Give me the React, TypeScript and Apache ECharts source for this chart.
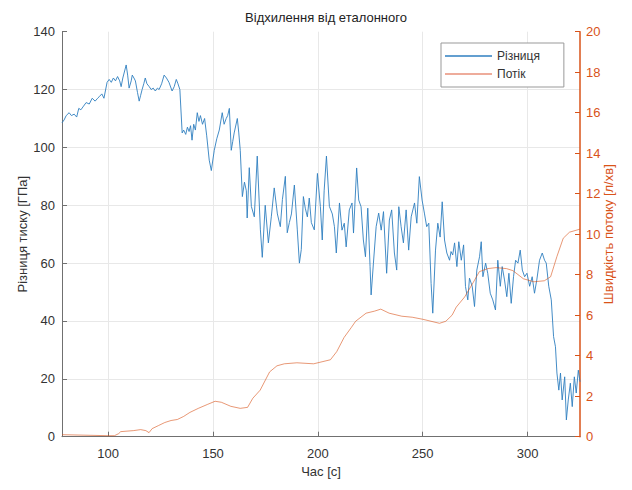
import React, { useEffect, useRef } from "react";
import * as echarts from "echarts";

const titleText = "Відхилення від еталонного";
const xName = "Час [с]";
const leftName = "Різниця тиску [ГПа]";
const rightName = "Швидкість потоку [л/хв]";
const diffLabel = "Різниця";
const flowLabel = "Потік";

const diffTime = [
  78, 79, 80, 81.4, 82.5, 83.8, 85, 86, 87, 88, 89.5, 91, 92.4, 93.8, 95, 95.7, 97, 98, 99.5,
  100.5, 101.5, 102.5, 103.5, 104.5, 105.5, 106.2, 107, 108.6, 109.3, 110, 111, 111.5, 112.3,
  113, 114, 114.8, 115.5, 116.2, 117, 117.7, 118.5, 119.6, 120.5, 121.5, 122.5, 123.5, 124.3,
  125.5, 126.7, 127.8, 129, 130.5, 131.5, 132.5, 133.3, 134.2, 135.3, 136, 137, 137.8, 138.6,
  139.3, 140, 140.8, 141.6, 142.5, 143.3, 144, 145, 146, 147, 148.2, 149.2, 150.6, 151.8, 153,
  154.4, 155.3, 156.3, 157, 157.8, 158.7, 159.4, 160.1, 161.6, 162.3, 163, 164, 165, 165.9,
  166.3, 167.3, 168.3, 169.7, 171.1, 172.6, 173.5, 174.9, 176.4, 177.8, 179.2, 180.7, 182.1,
  183.1, 184.5, 185.4, 186.4, 187.4, 188.8, 190.2, 191.2, 192.1, 193.1, 194, 195, 195.9, 196.9,
  198.3, 199.8, 201.2, 202.1, 203, 204.1, 205.5, 206.9, 207.9, 208.8, 210.3, 211.5, 212.6,
  213.5, 215, 216.3, 217, 218.5, 219.5, 220.6, 221.7, 222.7, 223.8, 224.9, 225.4, 226.5, 227.8,
  229, 230.2, 231.3, 232.8, 234.1, 235.2, 236.5, 237.6, 238.6, 239.7, 240.8, 242.1, 243.3,
  244.5, 246.1, 247.2, 248.4, 249.7, 250.8, 251.9, 252.9, 254, 254.8, 256.1, 257.2, 258.3,
  259.3, 260.4, 261.5, 262.8, 263.5, 264.3, 265.2, 266.3, 267.2, 268.4, 269.5, 270.4, 271.5,
  272.3, 273.6, 274.7, 275.8, 277.1, 277.9, 278.7, 280, 281, 282.2, 283.4, 284.7, 285.8, 287,
  287.9, 289, 290.1, 291.1, 292.2, 293.3, 294.3, 295.4, 296.5, 297.5, 298.6, 299.7, 301, 302.2,
  303.3, 304.4, 305.7, 307, 308.1, 308.9, 310.1, 311.3, 312.4, 313.3, 314, 314.9, 315.7, 316.5,
  317.7, 318.5, 319.4, 320.4, 321.3, 322.3, 323.2, 324.2, 325,
];

const diffValue = [
  108.5, 109.5, 111, 112, 111, 111.5, 110.5, 113.5, 113, 114, 115.5, 115, 117, 116, 117, 117.5, 118.5, 117, 122.5,
  123.5, 122.5, 124, 123, 124.5, 123, 121, 124, 128.5, 125, 120.5, 123, 125, 124,
  123, 119, 116, 118, 120, 122, 124, 122, 121, 120, 120.5, 119.5, 120.5, 120,
  122, 125, 124, 122.5, 119.5, 121, 123.5, 122, 120, 105, 106, 104.5, 107, 105.5,
  107.5, 102.5, 108, 106, 112, 109, 111, 108, 110, 104, 95.6, 92, 99, 103, 106,
  112, 108, 110, 111, 113.5, 99, 102, 105, 110, 105, 99, 83, 88, 85,
  75.6, 93, 79.6, 76, 97, 71.5, 62, 80, 67, 76, 86, 77, 72.6,
  82, 90, 70.5, 74, 77, 87, 71.5, 60, 64.7, 83, 79, 76, 82.5, 74,
  71.5, 91, 79.6, 68, 85, 97, 79.6, 77, 72.6, 63.5, 80.8, 71.4, 73.8,
  65.6, 78.4, 80.8, 70.4, 92.9, 81.8, 79.5, 68, 62.2, 79, 58.8, 49, 60, 72.6,
  77.3, 71.4, 77.8, 56.5, 74.9, 78.4, 63.5, 57.6, 79.5, 72.6, 67, 78.4, 64.5,
  76, 80.8, 73.8, 89.9, 81.8, 77.3, 72.6, 73.8, 53, 42.7, 64.5, 73.8, 69,
  81.2, 68, 63.5, 61, 64, 62.8, 67, 58.8, 67.4, 61, 66.3, 51.9, 47.3,
  54.8, 52, 45, 57.6, 62.2, 67.4, 55.3, 60, 56.5, 49.6, 47.3, 43.8, 61, 52,
  58.8, 54.2, 48.4, 56.5, 46.1, 55.3, 61, 60, 64.5, 57.6, 55.3, 56.5, 52, 55.3,
  49.6, 54.2, 61, 63.5, 61, 60, 52, 47.3, 34.6, 31.1, 22, 16.1, 22, 12.7,
  20.7, 5.8, 12.7, 18.5, 10.4, 20.7, 15.1, 23, 19,
];

const flowTime = [
  78, 100, 103, 105, 106, 112, 115.5, 118, 119.5, 121, 124, 127, 130, 133, 136, 139, 143, 147.5,
  151, 154, 158.5, 163, 166.5, 169, 172.5, 177, 180.5, 184, 190, 198, 202, 206, 209, 212.5, 216,
  218, 223, 227, 230, 234, 240, 245, 250, 258, 261, 264, 266, 270, 274, 277, 281, 285, 290, 293,
  298, 303, 308, 311, 314, 317, 320, 325,
];

const flowValue = [
  0.1, 0.05, 0.05, 0.15, 0.25, 0.3, 0.35, 0.3, 0.2, 0.4, 0.55, 0.7, 0.8, 0.85, 1.0, 1.2, 1.4, 1.6,
  1.75, 1.7, 1.5, 1.4, 1.45, 1.9, 2.3, 3.2, 3.5, 3.6, 3.65, 3.6, 3.7, 3.8, 4.2, 4.9, 5.4,
  5.7, 6.1, 6.2, 6.3, 6.1, 5.95, 5.9, 5.8, 5.6, 5.7, 6.0, 6.4, 6.9, 7.6, 8.15, 8.3, 8.35, 8.3, 8.2,
  7.8, 7.65, 7.7, 7.9, 8.9, 9.8, 10.1, 10.25,
];

const FONT = "'Liberation Sans', Arial, sans-serif";
const BLUE = "#2f7fc0";
const ORANGE = "#D95319";
const AXIS = "#707070";

export default function App() {
  const ref = useRef<HTMLDivElement>(null);
  useEffect(() => {
    if (!ref.current) return;
    const chart = echarts.init(ref.current, null, { renderer: "svg" });
    chart.setOption({
      animation: false,
      backgroundColor: "#fff",
      textStyle: { fontFamily: FONT },
      title: {
        text: titleText,
        left: 321,
        textAlign: "center",
        top: 6,
        textStyle: { fontSize: 13, fontWeight: "normal", color: "#222", fontFamily: FONT },
      },
      legend: {
        orient: "vertical",
        left: 441,
        top: 43,
        padding: [6, 24, 6, 4],
        itemGap: 4,
        itemWidth: 47,
        itemHeight: 1.5,
        icon: "rect",
        borderColor: "#999",
        borderWidth: 1,
        backgroundColor: "#fff",
        textStyle: { fontSize: 12, color: "#333", fontFamily: FONT, lineHeight: 14 },
        data: [diffLabel, flowLabel],
      },
      grid: { left: 62, right: 52, top: 31.7, bottom: 53.3, containLabel: false },
      xAxis: {
        type: "value",
        min: 78,
        max: 325,
        splitNumber: 5,
        name: xName,
        nameLocation: "middle",
        nameGap: 27,
        nameTextStyle: { fontSize: 13, color: "#333", fontFamily: FONT },
        axisLine: { show: true, lineStyle: { color: AXIS, width: 1 } },
        axisTick: { show: true, inside: true, length: 5, lineStyle: { color: AXIS } },
        axisLabel: {
          fontSize: 13,
          color: "#333",
          margin: 10,
          fontFamily: FONT,
          showMinLabel: false,
          showMaxLabel: false,
          formatter: (v: number) => (v % 50 === 0 ? String(v) : ""),
        },
        splitLine: { show: true, showMinLine: false, showMaxLine: false, lineStyle: { color: "#e8e8e8", width: 1 } },
      },
      yAxis: [
        {
          type: "value",
          min: 0,
          max: 140,
          interval: 20,
          name: leftName,
          nameLocation: "middle",
          nameGap: 33,
          nameMoveOverlap: false,
          nameTextStyle: { fontSize: 13, color: "#333", fontFamily: FONT },
          axisLine: { show: true, lineStyle: { color: AXIS, width: 1 } },
          axisTick: { show: true, inside: true, length: 5, lineStyle: { color: AXIS } },
          axisLabel: { fontSize: 13, color: "#333", margin: 7, fontFamily: FONT },
          splitLine: { show: true, showMaxLine: false, lineStyle: { color: "#e8e8e8", width: 1 } },
        },
        {
          type: "value",
          min: 0,
          max: 20,
          interval: 2,
          position: "right",
          name: rightName,
          nameLocation: "middle",
          nameGap: 22,
          nameMoveOverlap: false,
          nameRotate: 90,
          nameTextStyle: { fontSize: 13, color: ORANGE, fontFamily: FONT },
          axisLine: { show: true, lineStyle: { color: ORANGE, width: 1.5 } },
          axisTick: { show: true, inside: true, length: 5, lineStyle: { color: ORANGE } },
          axisLabel: { fontSize: 13, color: ORANGE, margin: 6, fontFamily: FONT },
          splitLine: { show: false },
        },
      ],
      series: [
        {
          name: diffLabel,
          type: "line",
          yAxisIndex: 0,
          showSymbol: false,
          symbol: "none",
          data: diffTime.map((t, i) => [t, diffValue[i]]),
          lineStyle: { color: BLUE, width: 0.9 },
          itemStyle: { color: BLUE },
        },
        {
          name: flowLabel,
          type: "line",
          yAxisIndex: 1,
          showSymbol: false,
          symbol: "none",
          data: flowTime.map((t, i) => [t, flowValue[i]]),
          lineStyle: { color: ORANGE, width: 0.8, opacity: 0.75 },
          itemStyle: { color: "#E8907A" },
        },
      ],
    });
    return () => chart.dispose();
  }, []);
  return (
    <div
      ref={ref}
      style={{ position: "fixed", left: 0, top: 0, width: 632, height: 490, background: "#fff" }}
    />
  );
}
